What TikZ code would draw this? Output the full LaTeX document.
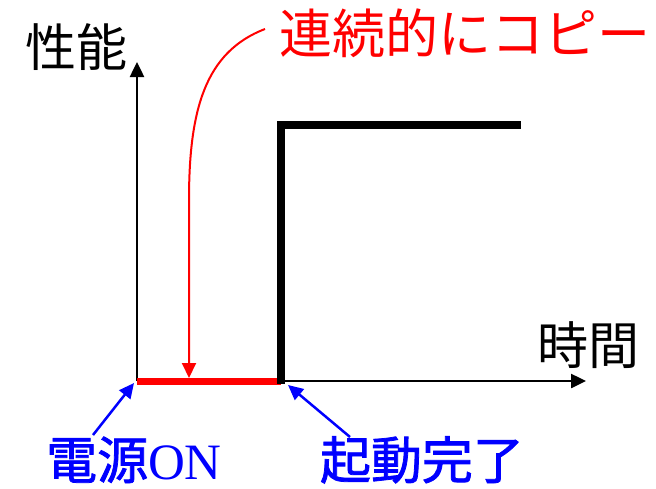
\documentclass[tikz,border=0pt]{standalone}
\usepackage{fontspec}
\newfontfamily\jp{Noto Sans CJK JP}
\newfontfamily\jpb[FakeBold=1.5]{Noto Sans CJK JP}
\newfontfamily\ser{Liberation Serif}
\usetikzlibrary{arrows.meta}
\tikzset{
  axisline/.style={line width=2.5pt,-{Triangle[length=15pt,width=14pt]}},
  stepline/.style={line width=8pt},
  redbar/.style={line width=7pt,red},
  redarrow/.style={line width=2pt,red,-{Triangle[length=15pt,width=14pt]}},
  bluearrow/.style={line width=2.5pt,blue,-{Triangle[length=15pt,width=14pt]}},
  lbl/.style={inner sep=0pt,anchor=base,font=\jp\fontsize{51}{51}\selectfont},
  blbl/.style={inner sep=0pt,anchor=base,blue,font=\jpb\fontsize{51}{51}\selectfont},
}
\begin{document}
\begin{tikzpicture}[x=1pt,y=-1pt]
\useasboundingbox (0,0) rectangle (656,488);
\coordinate (O) at (137,381);
\coordinate (ytip) at (137,62);
\coordinate (xtip) at (586,381);
\coordinate (S) at (281,381);
\coordinate (Sbot) at (281,384);
\coordinate (Stop) at (281,122);
\coordinate (Hl) at (277,125);
\coordinate (Hr) at (521,125);
\coordinate (Rstart) at (265,29);
\coordinate (Rmid) at (189,200);
\coordinate (Rtip) at (189,378);
\coordinate (Ptail) at (93,435);
\coordinate (Ptip) at (134,383);
\coordinate (Ktail) at (350,437);
\coordinate (Ktip) at (288,385);
% axes
\draw[axisline] (O) -- (ytip);
\draw[axisline] (O) -- (xtip);
% red bar
\draw[redbar] (O) -- (S);
% step
\draw[stepline] (Sbot) -- (Stop);
\draw[stepline] (Hl) -- (Hr);
% red curve arrow
\draw[redarrow] (Rstart) .. controls (205,52) and (189,110) .. (Rmid) -- (Rtip);
% blue arrows
\draw[bluearrow] (Ptail) -- (Ptip);
\draw[bluearrow] (Ktail) -- (Ktip);
% labels
\node[lbl] (perf) at (76,66) {性能};
\node[lbl,red,font=\jp\fontsize{53}{53}\selectfont] (copy) at (465,53) {連続的にコピー};
\node[lbl] (time) at (588,364) {時間};
\node[blbl] (pon) at (134,479) {電源{\ser\smash{ON}}};
\node[blbl] (boot) at (422,479) {起動完了};
\end{tikzpicture}
\end{document}
